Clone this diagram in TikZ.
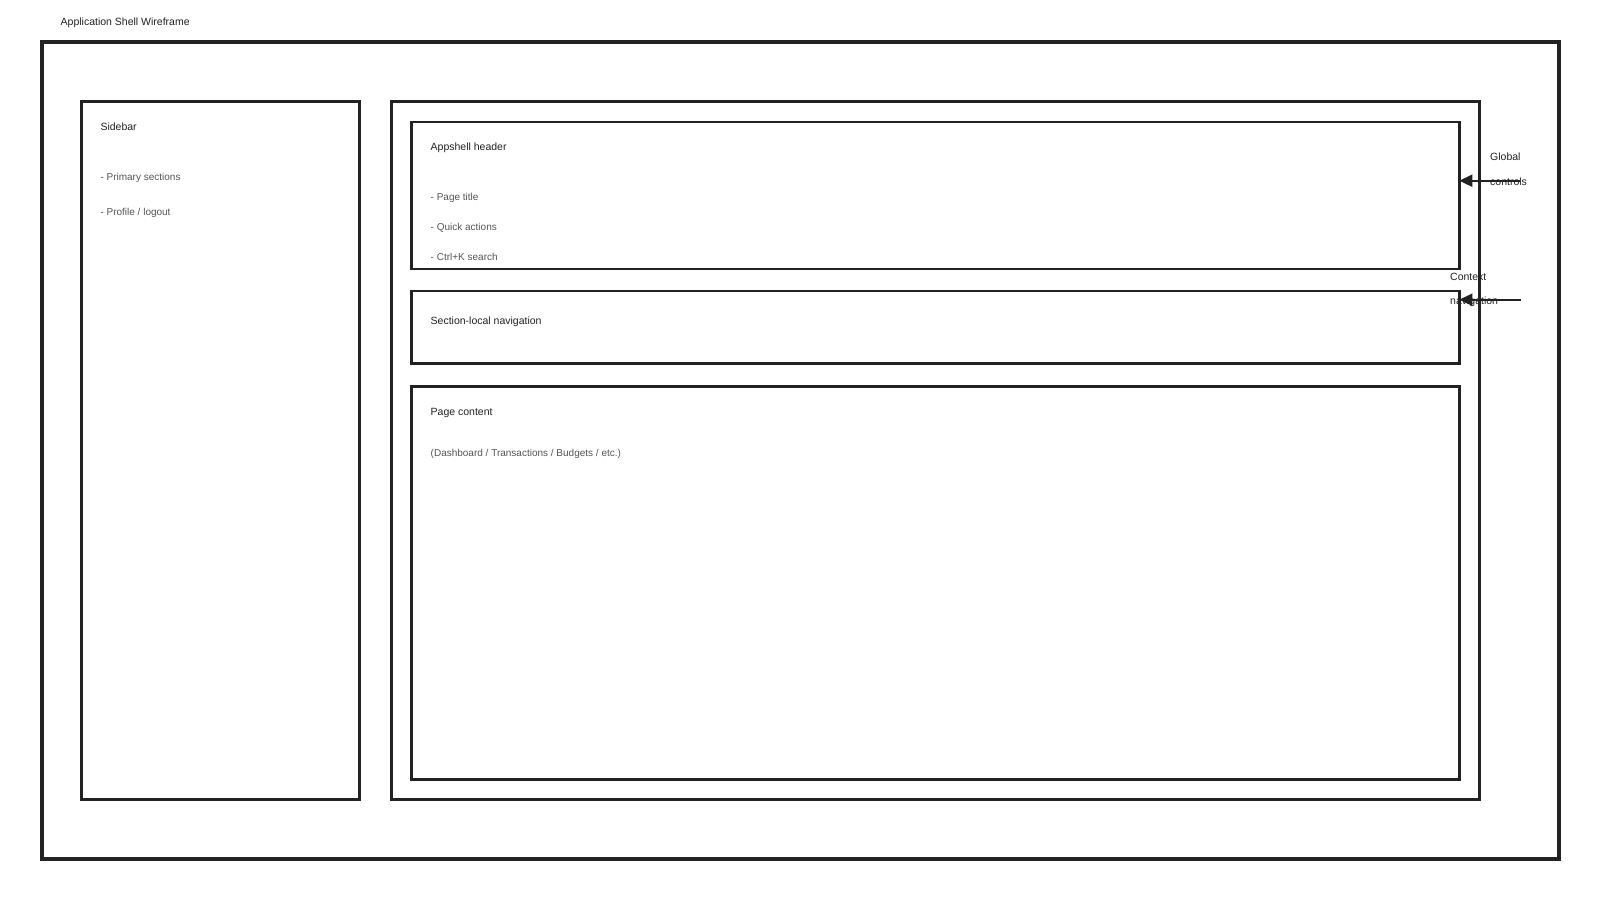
\documentclass[tikz,border=0pt]{standalone}
\usepackage{fontspec}
\setmainfont{Liberation Sans}
\usetikzlibrary{arrows.meta}
\definecolor{ink}{HTML}{222222}
\definecolor{muted}{HTML}{555555}
\begin{document}
\begin{tikzpicture}[x=1pt,y=-1pt,
  frame/.style={draw=ink, line width=4pt, inner sep=0pt, outer sep=0pt, anchor=north west},
  panel/.style={draw=ink, line width=2.8pt, inner sep=0pt, outer sep=0pt, anchor=north west},
  ttl/.style={anchor=base west, inner sep=0pt, text=ink, font=\fontsize{10.5}{13}\selectfont},
  itm/.style={anchor=base west, inner sep=0pt, text=muted, font=\fontsize{10}{13}\selectfont},
  callout/.style={draw=ink, line width=2pt, -{Triangle[length=13pt,width=12pt]}}]
\fill[white] (0,0) rectangle (1600,900);
\useasboundingbox (0,0) rectangle (1600,900);

\node[ttl] (title) at (60.5,25.3) {Application Shell Wireframe};

\node[frame, minimum width=1517pt, minimum height=817pt] (outer) at (42,42) {};
\node[panel, minimum width=278pt, minimum height=698pt] (sidebar) at (81.3,101.5) {};
\node[panel, minimum width=1088pt, minimum height=698pt] (main) at (391.3,101.5) {};
\node[panel, minimum width=1048pt, minimum height=147pt] (header) at (411.3,122) {};
\node[panel, minimum width=1048pt, minimum height=72.7pt] (nav) at (411.3,291) {};
\node[panel, minimum width=1048pt, minimum height=393.3pt] (content) at (411.3,386.3) {};

\node[ttl] (sbt) at (100.3,130.7) {Sidebar};
\node[itm] (sb1) at (100.3,180) {- Primary sections};
\node[itm] (sb2) at (100.3,215) {- Profile / logout};

\node[ttl] (hdt) at (430.5,150) {Appshell header};
\node[itm] (hd1) at (430.5,200) {- Page title};
\node[itm] (hd2) at (430.5,230.7) {- Quick actions};
\node[itm] (hd3) at (430.5,260) {- Ctrl+K search};

\node[ttl] (navt) at (430.5,324) {Section-local navigation};

\node[ttl] (pct) at (430.5,415) {Page content};
\node[itm] (pc1) at (430.5,456) {(Dashboard / Transactions / Budgets / etc.)};

\coordinate (gc) at (1520,180.7);
\coordinate (cn) at (1520.7,299.7);
\draw[callout] (gc) -- (header.east |- gc);
\draw[callout] (cn) -- (nav.east |- cn);

\node[ttl] (gc1) at (1490,160.7) {Global};
\node[ttl] (gc2) at (1490,185.3) {controls};
\node[ttl] (cn1) at (1450,280) {Context};
\node[ttl] (cn2) at (1450,304.3) {navigation};
\end{tikzpicture}
\end{document}
